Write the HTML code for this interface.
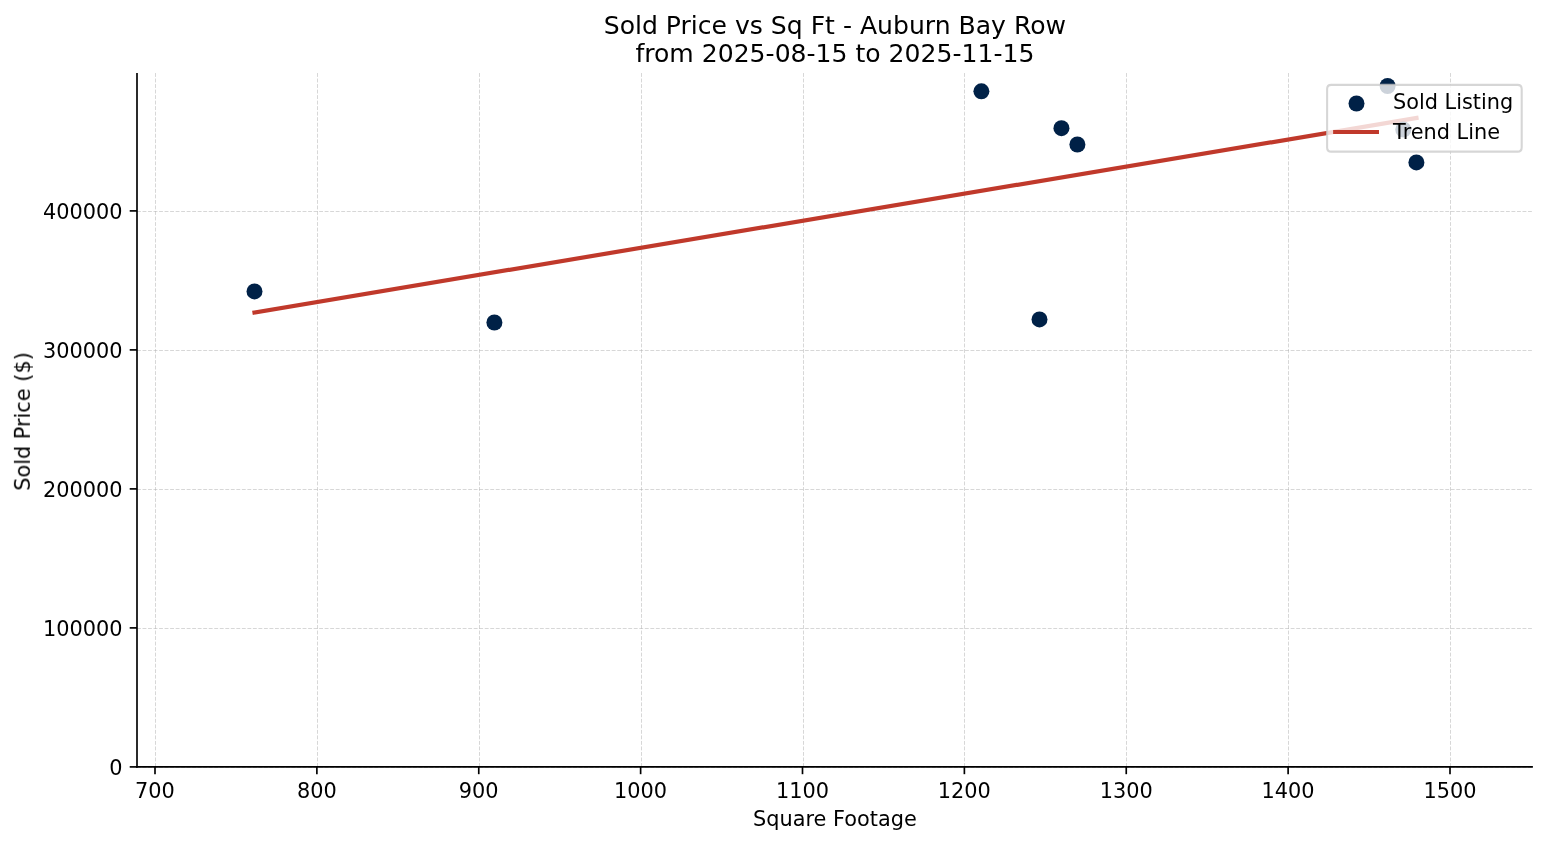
<!DOCTYPE html><html><head><meta charset="utf-8"><title>Sold Price vs Sq Ft - Auburn Bay Row</title>
<style>html,body{margin:0;padding:0;background:#fff;}body{width:1547px;height:845px;overflow:hidden;}svg{display:block;}svg text{will-change:transform;}text{font-family:"DejaVu Sans","Liberation Sans",sans-serif;fill:#000;}</style></head><body>
<svg width="1547" height="845" viewBox="0 0 1547 845">
<rect x="0" y="0" width="1547" height="845" fill="#ffffff"/>
<g stroke="#b0b0b0" stroke-opacity="0.5" stroke-width="1.0" stroke-dasharray="3.85 1.67" fill="none"><line x1="155.50" y1="766.90" x2="155.50" y2="72.90"/><line x1="317.50" y1="766.90" x2="317.50" y2="72.90"/><line x1="479.50" y1="766.90" x2="479.50" y2="72.90"/><line x1="641.50" y1="766.90" x2="641.50" y2="72.90"/><line x1="803.50" y1="766.90" x2="803.50" y2="72.90"/><line x1="964.50" y1="766.90" x2="964.50" y2="72.90"/><line x1="1126.50" y1="766.90" x2="1126.50" y2="72.90"/><line x1="1288.50" y1="766.90" x2="1288.50" y2="72.90"/><line x1="1450.50" y1="766.90" x2="1450.50" y2="72.90"/><line x1="137.00" y1="767.50" x2="1532.90" y2="767.50"/><line x1="137.00" y1="628.50" x2="1532.90" y2="628.50"/><line x1="137.00" y1="489.50" x2="1532.90" y2="489.50"/><line x1="137.00" y1="350.50" x2="1532.90" y2="350.50"/><line x1="137.00" y1="211.50" x2="1532.90" y2="211.50"/></g>
<line x1="254.5" y1="312.5" x2="1416.5" y2="118.0" stroke="#c0392b" stroke-width="4.17" stroke-linecap="square"/>
<g fill="#002147"><circle cx="254.5" cy="291.4" r="8"/><circle cx="494.4" cy="322.5" r="8"/><circle cx="981.4" cy="91.3" r="8"/><circle cx="1039.5" cy="319.4" r="8"/><circle cx="1061.45" cy="128.2" r="8"/><circle cx="1077.4" cy="144.5" r="8"/><circle cx="1387.6" cy="86.0" r="8"/><circle cx="1403.3" cy="129.5" r="8"/><circle cx="1416.4" cy="162.4" r="8"/></g>
<g stroke="#000" stroke-width="1.67" fill="none"><line x1="137.0" y1="72.9" x2="137.0" y2="767.73"/><line x1="136.17" y1="766.9" x2="1532.9" y2="766.9"/></g>
<g stroke="#000" stroke-width="1.67"><line x1="155.00" y1="766.90" x2="155.00" y2="774.19"/><line x1="316.88" y1="766.90" x2="316.88" y2="774.19"/><line x1="478.75" y1="766.90" x2="478.75" y2="774.19"/><line x1="640.62" y1="766.90" x2="640.62" y2="774.19"/><line x1="802.50" y1="766.90" x2="802.50" y2="774.19"/><line x1="964.38" y1="766.90" x2="964.38" y2="774.19"/><line x1="1126.25" y1="766.90" x2="1126.25" y2="774.19"/><line x1="1288.12" y1="766.90" x2="1288.12" y2="774.19"/><line x1="1450.00" y1="766.90" x2="1450.00" y2="774.19"/><line x1="137.00" y1="766.90" x2="129.71" y2="766.90"/><line x1="137.00" y1="627.90" x2="129.71" y2="627.90"/><line x1="137.00" y1="488.90" x2="129.71" y2="488.90"/><line x1="137.00" y1="349.90" x2="129.71" y2="349.90"/><line x1="137.00" y1="210.90" x2="129.71" y2="210.90"/></g>
<g font-size="20.83"><text x="155.00" y="798.1" text-anchor="middle">700</text><text x="316.88" y="798.1" text-anchor="middle">800</text><text x="478.75" y="798.1" text-anchor="middle">900</text><text x="640.62" y="798.1" text-anchor="middle">1000</text><text x="802.50" y="798.1" text-anchor="middle">1100</text><text x="964.38" y="798.1" text-anchor="middle">1200</text><text x="1126.25" y="798.1" text-anchor="middle">1300</text><text x="1288.12" y="798.1" text-anchor="middle">1400</text><text x="1450.00" y="798.1" text-anchor="middle">1500</text><text x="122.5" y="775.10" text-anchor="end">0</text><text x="122.5" y="636.10" text-anchor="end">100000</text><text x="122.5" y="497.10" text-anchor="end">200000</text><text x="122.5" y="358.10" text-anchor="end">300000</text><text x="122.5" y="219.10" text-anchor="end">400000</text></g>
<text x="834.9" y="825.5" font-size="20.83" text-anchor="middle">Square Footage</text>
<text transform="translate(29.9,421.5) rotate(-90)" x="0" y="0" font-size="20.83" text-anchor="middle">Sold Price ($)</text>
<text x="834.9" y="34.0" font-size="25.08" text-anchor="middle">Sold Price vs Sq Ft - Auburn Bay Row</text>
<text x="834.9" y="62.0" font-size="25.08" text-anchor="middle">from 2025-08-15 to 2025-11-15</text>
<path d="M1331.27,84.9 L1517.53,84.9 Q1521.7,84.9 1521.7,89.07 L1521.7,147.43 Q1521.7,151.6 1517.53,151.6 L1331.27,151.6 Q1327.1,151.6 1327.1,147.43 L1327.1,89.07 Q1327.1,84.9 1331.27,84.9 Z" fill="#ffffff" fill-opacity="0.8" stroke="#cccccc" stroke-opacity="0.8" stroke-width="2.08"/>
<circle cx="1356.5" cy="103.5" r="8" fill="#002147"/>
<line x1="1335.2" y1="132.0" x2="1376.9" y2="132.0" stroke="#c0392b" stroke-width="4.17" stroke-linecap="square"/>
<text x="1393.0" y="108.7" font-size="20.83">Sold Listing</text>
<text x="1393.0" y="138.8" font-size="20.83">Trend Line</text>
</svg></body></html>
